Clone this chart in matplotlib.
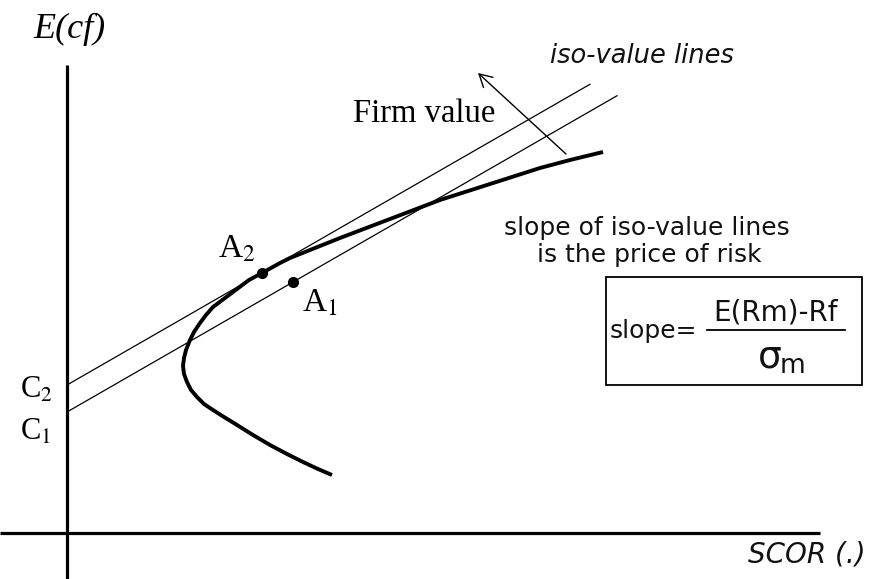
import matplotlib
matplotlib.use("Agg")
import matplotlib.pyplot as plt
from matplotlib.patches import Rectangle

# frontier curve E(cf) vs SCOR (top end -> bottom end)
frontier_x = [5.36, 5.03, 4.73, 4.23, 3.73, 3.23, 2.73, 2.48, 2.23, 2.13, 1.95,
              1.82, 1.70, 1.58, 1.46, 1.39, 1.33, 1.27, 1.23, 1.19, 1.17, 1.16,
              1.17, 1.20, 1.24, 1.30, 1.37, 1.46, 1.57, 1.70, 1.86, 2.03, 2.20,
              2.36, 2.51, 2.65]
frontier_y = [3.81, 3.73, 3.65, 3.49, 3.33, 3.14, 2.95, 2.85, 2.75, 2.70, 2.60,
              2.53, 2.44, 2.35, 2.26, 2.18, 2.10, 2.01, 1.93, 1.83, 1.75, 1.67,
              1.59, 1.51, 1.43, 1.36, 1.29, 1.23, 1.16, 1.08, 0.98, 0.88, 0.79,
              0.71, 0.64, 0.58]

# iso-value lines: intercepts C1, C2, common slope and where each line stops
iso_labels = ["C$_1$", "C$_2$"]
iso_intercepts = [1.21, 1.48]
iso_slope = 0.575
iso_end_x = [5.50, 5.23]

# the two marked points
point_labels = ["A$_1$", "A$_2$"]
point_x = [2.26, 1.95]
point_y = [2.51, 2.60]

SERIF = "Liberation Serif"

fig = plt.figure(figsize=(8.79, 5.79), dpi=100)
ax = fig.add_axes([0, 0, 1, 1])
ax.set_xlim(-0.67, 8.12)
ax.set_ylim(-0.46, 5.33)
ax.axis("off")
plt.rcParams["mathtext.fontset"] = "stix"

# axes
ax.plot([0, 0], [-0.46, 4.68], color="black", lw=2.3, solid_capstyle="butt")
ax.plot([-0.67, 7.53], [0, 0], color="black", lw=2.3, solid_capstyle="butt")

# iso-value lines
for b, xe in zip(iso_intercepts, iso_end_x):
    ax.plot([0, xe], [b, b + iso_slope * xe], color="black", lw=0.9)

# frontier
ax.plot(frontier_x, frontier_y, color="black", lw=2.8,
        solid_joinstyle="round", solid_capstyle="butt")

# points
ax.plot(point_x, point_y, "o", color="black", markersize=7)

# arrow for increasing firm value
ax.annotate("", xy=(4.11, 4.60), xytext=(4.99, 3.79),
            arrowprops=dict(arrowstyle="->, head_length=0.45, head_width=0.25",
                            lw=1.0, color="black", shrinkA=0, shrinkB=0,
                            mutation_scale=20))

# labels
ax.text(-0.34, 4.95, "E(cf)", family=SERIF, style="italic", fontsize=26,
        va="baseline", ha="left")
ax.text(-0.47, 0.93, iso_labels[0], family=SERIF, fontsize=22, va="baseline")
ax.text(-0.47, 1.35, iso_labels[1], family=SERIF, fontsize=22, va="baseline")
ax.text(2.35, 2.21, point_labels[0], family=SERIF, fontsize=24, va="baseline")
ax.text(1.51, 2.75, point_labels[1], family=SERIF, fontsize=24, va="baseline")
ax.text(2.86, 4.11, "Firm value", family=SERIF, fontsize=23.5, va="baseline")
ax.text(4.83, 4.70, "iso-value lines", style="italic", fontsize=18.5,
        va="baseline", color="#111111")
ax.text(5.80, 2.98, "slope of iso-value lines", fontsize=18, ha="center",
        va="baseline", color="#111111")
ax.text(5.82, 2.71, "is the price of risk", fontsize=18, ha="center",
        va="baseline", color="#111111")
ax.text(6.81, -0.29, "SCOR (.)", style="italic", fontsize=20,
        va="baseline", color="#111111")

# formula box
ax.add_patch(Rectangle((5.39, 1.48), 2.56, 1.08, fill=False,
                       edgecolor="black", lw=1.3))
ax.text(5.43, 1.95, "slope=", fontsize=18, va="baseline", color="#111111")
ax.plot([6.40, 7.78], [2.03, 2.03], color="black", lw=1.3)
ax.text(7.09, 2.13, "E(Rm)-Rf", fontsize=20, ha="center", va="baseline",
        color="#111111")
ax.text(7.03, 1.66, "σ", fontsize=27, ha="center", va="baseline",
        color="#111111")
ax.text(7.13, 1.60, "m", fontsize=19, ha="left", va="baseline",
        color="#111111")

fig.savefig("out.png", dpi=100)
